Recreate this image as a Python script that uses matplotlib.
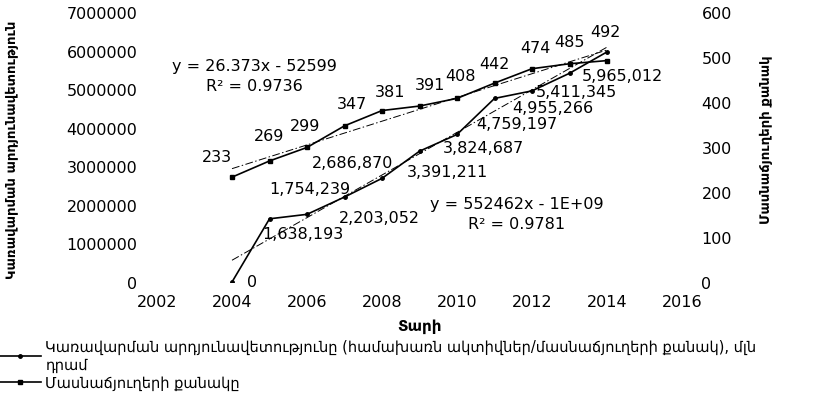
import numpy as np
import matplotlib.pyplot as plt
from matplotlib.ticker import FuncFormatter

years = [2004, 2005, 2006, 2007, 2008, 2009, 2010, 2011, 2012, 2013, 2014]
efficiency = [0, 1638193, 1754239, 2203052, 2686870, 3391211, 3824687,
              4759197, 4955266, 5411345, 5965012]
branches = [233, 269, 299, 347, 381, 391, 408, 442, 474, 485, 492]
eff_labels = ['0', '1,638,193', '1,754,239', '2,203,052', '2,686,870', '3,391,211',
              '3,824,687', '4,759,197', '4,955,266', '5,411,345', '5,965,012']

left_label = 'Կառավարման արդյունավետություն'
right_label = 'Մասնաճյուղերի քանակ'
x_label = 'Տարի'
legend_eff = 'Կառավարման արդյունավետությունը (համախառն ակտիվներ/մասնաճյուղերի քանակ), մլն\nդրամ'
legend_br = 'Մասնաճյուղերի քանակը'

plt.rcParams['font.family'] = ['DejaVu Sans']
fs = 11.5

fig = plt.figure(figsize=(8.23, 4.02), dpi=100)
ax = fig.add_axes([157 / 823, 1 - 283 / 402, 525 / 823, 270 / 402])
ax2 = ax.twinx()

# data lines
l1, = ax.plot(years, efficiency, color='black', lw=1.2, marker='.', ms=5)
l2, = ax2.plot(years, branches, color='black', lw=1.2, marker='s', ms=3.5)

# linear trend lines
x = np.array(years)
p1 = np.polyfit(x, efficiency, 1)
p2 = np.polyfit(x, branches, 1)
ax.plot(x, np.polyval(p1, x), color='black', lw=0.7, linestyle=(0, (8, 2.5, 1.5, 2.5)))
ax2.plot(x, np.polyval(p2, x), color='black', lw=0.7, linestyle=(0, (8, 2.5, 1.5, 2.5)))

# data labels (pixel offsets, y up)
eff_off = [(20, 0), (33, -15), (3, 26), (35, -20), (-29, 16), (28, -20),
           (26, -13), (22, -25), (21, -17), (7, -18), (15, -24)]
for xi, yi, lab, off in zip(years, efficiency, eff_labels, eff_off):
    ax.annotate(lab, (xi, yi), xytext=off, textcoords='offset pixels',
                ha='center', va='center', fontsize=fs)

br_off = [(-15, 21), (0, 25), (-2, 22), (7, 22), (8, 19), (10, 22),
          (4, 23), (0, 20), (3, 21), (0, 22), (-2, 29)]
for xi, yi, off in zip(years, branches, br_off):
    ax2.annotate(str(yi), (xi, yi), xytext=off, textcoords='offset pixels',
                 ha='center', va='center', fontsize=fs)

# trend equations
fig.text(254 / 823, 1 - 67 / 402, 'y = 26.373x - 52599', ha='center', va='center', fontsize=fs)
fig.text(254 / 823, 1 - 87 / 402, 'R² = 0.9736', ha='center', va='center', fontsize=fs)
fig.text(517 / 823, 1 - 205 / 402, 'y = 552462x - 1E+09', ha='center', va='center', fontsize=fs)
fig.text(517 / 823, 1 - 225 / 402, 'R² = 0.9781', ha='center', va='center', fontsize=fs)

ax.set_xlim(2002, 2016)
ax.set_ylim(0, 7000000)
ax2.set_ylim(0, 600)
ax.set_xticks(range(2002, 2017, 2))
ax.set_yticks(range(0, 7000001, 1000000))
ax2.set_yticks(range(0, 601, 100))
ax.yaxis.set_major_formatter(FuncFormatter(lambda v, p: '%d' % v))

for a in (ax, ax2):
    for s in a.spines.values():
        s.set_visible(False)
ax.tick_params(axis='y', length=0, pad=14, labelsize=fs)
ax.tick_params(axis='x', length=0, pad=9, labelsize=fs)
ax2.tick_params(axis='y', length=0, pad=14, labelsize=fs)

ax.set_xlabel(x_label, fontsize=11, fontweight='bold', labelpad=6)
fig.text(12 / 823, 1 - 150 / 402, left_label, rotation=90, ha='center', va='center',
         fontsize=9.5, fontweight='bold')
fig.text(766 / 823, 1 - 140 / 402, right_label, rotation=90, ha='center', va='center',
         fontsize=9.5, fontweight='bold')

fig.legend([l1, l2], [legend_eff, legend_br], loc='upper left',
           bbox_to_anchor=(0.0, 1 - 340 / 402), frameon=False, fontsize=10.5,
           handlelength=2.8, handletextpad=0.3, numpoints=1, labelspacing=0.25,
           borderaxespad=0, borderpad=0)

fig.savefig('out.png', dpi=100)
